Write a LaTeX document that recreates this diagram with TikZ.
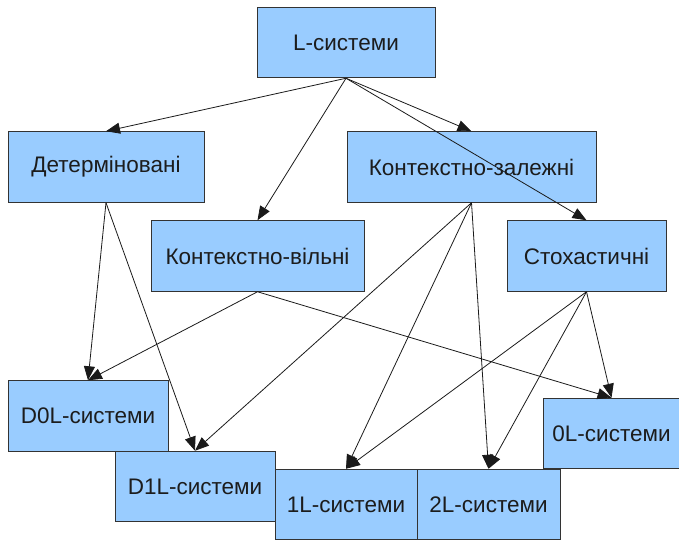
\documentclass[tikz,border=0pt]{standalone}
\usepackage{fontspec}
\setmainfont{Liberation Sans}
\usetikzlibrary{arrows.meta, positioning}
\definecolor{boxfill}{HTML}{99CCFF}
\definecolor{boxline}{HTML}{333333}
\definecolor{linkline}{HTML}{1A1A1A}
\definecolor{boxtext}{HTML}{1C1C1C}
\tikzset{
  % прямокутник класу L-систем
  lbox/.style={draw=boxline, line width=1pt, fill=boxfill, minimum height=70.5pt,
    inner sep=0pt, align=center, text=boxtext},
  % стрілка успадкування
  link/.style={-{Triangle[length=14pt, width=11pt]}, linkline, line width=0.8pt},
}
\begin{document}
\begin{tikzpicture}[x=1pt, y=-1pt, every node/.style={font=\fontsize{22.5}{26}\selectfont}]
  \useasboundingbox (0,0) rectangle (679,540);
  % верхній рівень
  \node[lbox, minimum width=178pt] (lsys) at (346,42.5) {L-системи};
  % другий рівень
  \node[lbox, minimum width=196pt] (det) at (106,167) {Детерміновані};
  \node[lbox, minimum width=249pt] (ctxdep) at (471.5,167) {Контекстно-залежні};
  \node[lbox, minimum width=213pt] (ctxfree) at (257.5,256) {Контекстно-вільні};
  \node[lbox, minimum width=159pt] (stoch) at (586.5,256) {Стохастичні};
  % нижній рівень
  \node[lbox, minimum width=160pt] (dzero) at (88,416) {D0L-системи};
  \node[lbox, minimum width=160pt] (done) at (195,486.5) {D1L-системи};
  \node[lbox, minimum width=142pt] (one) at (346,504.5) {1L-системи};
  \node[lbox, minimum width=143pt] (two) at (488.5,504.5) {2L-системи};
  \node[lbox, minimum width=137pt] (zero) at (611.5,433.5) {0L-системи};
  % зв'язки
  \foreach \dst in {det, ctxfree, ctxdep, stoch} { \draw[link] (lsys.south) -- (\dst.north); }
  \foreach \dst in {dzero, done} { \draw[link] (det.south) -- (\dst.north); }
  \foreach \dst in {dzero, zero} { \draw[link] (ctxfree.south) -- (\dst.north); }
  \foreach \dst in {done, one, two} { \draw[link] (ctxdep.south) -- (\dst.north); }
  \foreach \dst in {one, two, zero} { \draw[link] (stoch.south) -- (\dst.north); }
\end{tikzpicture}
\end{document}
